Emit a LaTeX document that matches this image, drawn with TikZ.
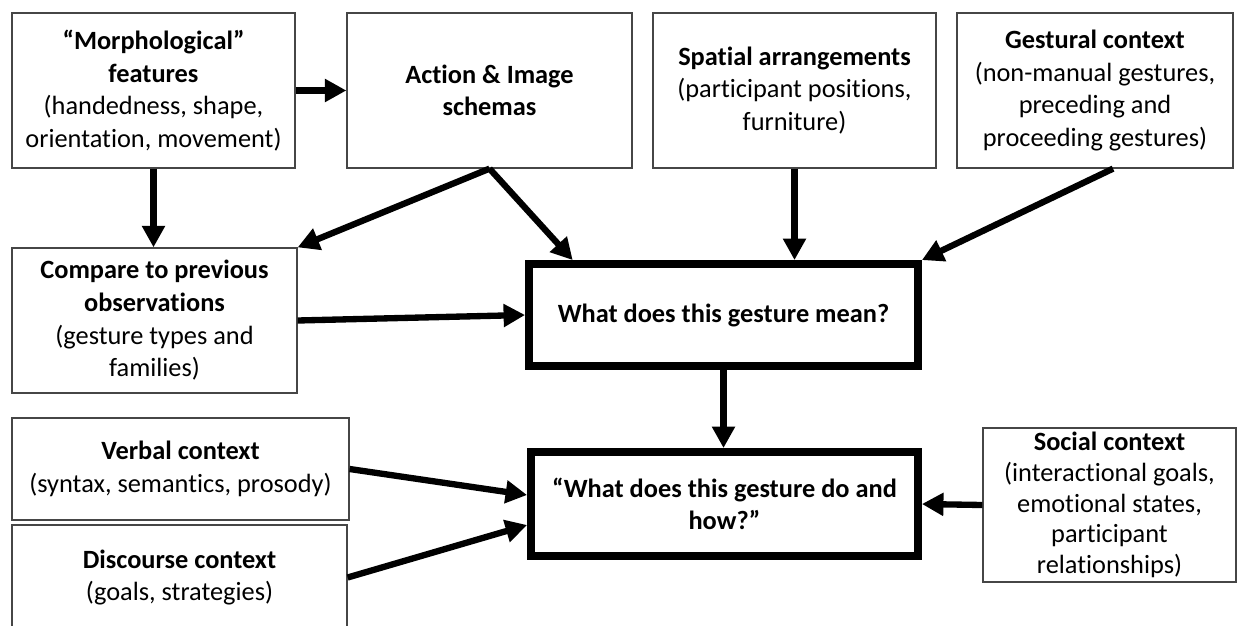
\documentclass[tikz,border=0pt]{standalone}
\usepackage{fontspec}
\setmainfont{Carlito}[Ligatures=NoCommon]
\usepackage{tikz}
\usetikzlibrary{arrows.meta,positioning,calc}
\definecolor{boxgray}{RGB}{70, 70, 70}

\begin{document}
\begin{tikzpicture}[x=0.02cm,y=-0.02cm,
    box/.style={draw=boxgray,line width=0.75pt,align=center,inner sep=0pt,font=\fontsize{15}{18.6}\selectfont},
    keybox/.style={draw=black,line width=4.5pt,align=center,inner sep=0pt,font=\bfseries\fontsize{15}{18.6}\selectfont},
    arrow/.style={line width=3.6pt,-{Triangle[length=0.43cm,width=0.44cm]}}]
    \useasboundingbox (0,0) rectangle (1239,625);
    \node[box,minimum width=5.66cm,minimum height=3.10cm] (morph) at (153.5,90.5) {\textbf{“Morphological”}\\\textbf{features}\\(handedness, shape,\\orientation, movement)};
    \node[box,minimum width=5.70cm,minimum height=3.10cm] (action) at (489.5,90.5) {\textbf{Action \& Image}\\\textbf{schemas}};
    \node[box,minimum width=5.66cm,minimum height=3.10cm] (spatial) at (794.5,90.5) {\textbf{Spatial arrangements}\\(participant positions,\\furniture)};
    \node[box,minimum width=5.52cm,minimum height=3.10cm] (gestural) at (1095,90.5) {\textbf{Gestural context}\\(non-manual gestures,\\preceding and\\proceeding gestures)};
    \node[box,minimum width=5.70cm,minimum height=2.90cm] (compare) at (154.5,320.5) {\textbf{Compare to previous}\\\textbf{observations}\\(gesture types and\\families)};
    \node[keybox,minimum width=7.78cm,minimum height=2.04cm] (mean) at (723.5,315) {What does this gesture mean?};
    \node[keybox,minimum width=7.74cm,minimum height=2.08cm] (do) at (724.5,504) {“What does this gesture do and\\how?”};
    \node[box,minimum width=6.74cm,minimum height=2.04cm] (verbal) at (180.5,469) {\textbf{Verbal context}\\(syntax, semantics, prosody)};
    \node[box,minimum width=6.70cm,minimum height=2.10cm] (discourse) at (179.5,577.5) {\textbf{Discourse context}\\(goals, strategies)};
    \node[box,font=\fontsize{15}{17.4}\selectfont,minimum width=5.06cm,minimum height=3.08cm] (social) at (1109.5,505) {\textbf{Social context}\\(interactional goals,\\emotional states,\\participant\\relationships)};
    \coordinate (meanin) at ($(mean.north west)!0.12!(mean.north east)$);
    \coordinate (gestout) at ($(gestural.south west)!0.565!(gestural.south east)$);
    \coordinate (verbalin) at ($(do.west)+(0,-9)$);
    \coordinate (discin) at ($(do.west)+(0,21)$);
    \draw[arrow] (morph.east) -- (action.west);
    \draw[arrow] (morph.south) -- (morph.south |- compare.north);
    \draw[arrow] (action.south) -- (compare.north east);
    \draw[arrow] (action.south) -- (meanin);
    \draw[arrow] (spatial.south) -- (spatial.south |- mean.north);
    \draw[arrow] (gestout) -- (mean.north east);
    \draw[arrow] (compare.east) -- (mean.west);
    \draw[arrow] (mean.south) -- (mean.south |- do.north);
    \draw[arrow] (verbal.east) -- (verbalin);
    \draw[arrow] (discourse.east) -- (discin);
    \draw[arrow] (social.west) -- (do.east);
\end{tikzpicture}
\end{document}
